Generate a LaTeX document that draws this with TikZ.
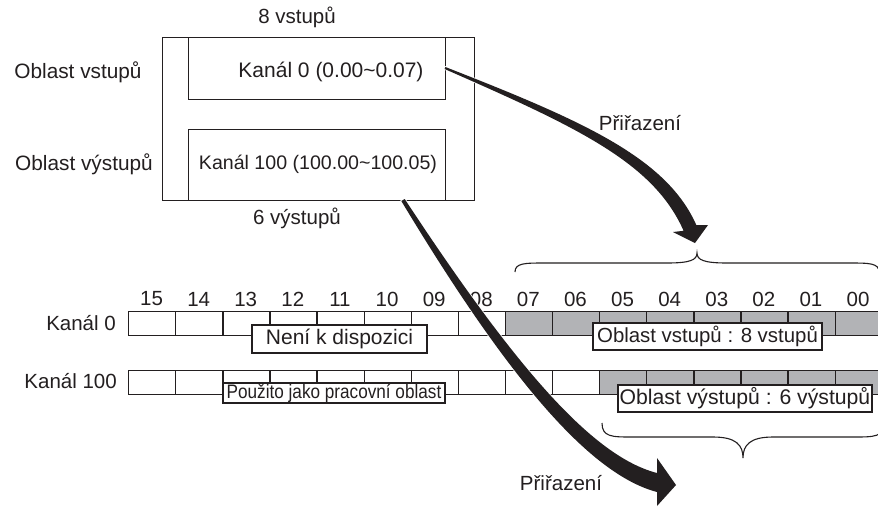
\documentclass[tikz,border=0pt]{standalone}
\usepackage{fontspec}
\setmainfont{Liberation Sans}
\newfontfamily\narrowfont[FakeStretch=0.88]{Liberation Sans}
\definecolor{ink}{RGB}{35,31,32}
\definecolor{cellgrey}{RGB}{178,179,182}
\newcommand{\fsz}[1]{\fontsize{#1}{#1}\selectfont}
\begin{document}
\begin{tikzpicture}[x=1pt,y=-1pt,
  txt/.style={inner sep=0pt, text=ink, font=\fsz{20.5}},
  frame/.style={draw=ink, line width=1.3pt},
  cell/.style={draw=ink, line width=1.3pt, minimum width=47.1pt, minimum height=24pt, inner sep=0pt, anchor=north west},
  tag/.style={draw=ink, fill=white, line width=1.1pt, text=ink, inner sep=0pt},
  brace/.style={draw=ink, line width=1.1pt},
  bigarrow/.style={fill=ink, preaction={draw=white, line width=1.6pt}}
]
\useasboundingbox (0,0) rectangle (878,507);
\clip (0,0) rectangle (878,507);
\fill[white] (0,0) rectangle (878,507);

% top block
\node[frame, minimum width=312pt, minimum height=163pt, inner sep=0pt, anchor=north west] (outer) at (162,37) {};
\node[frame, minimum width=257pt, minimum height=62pt, inner sep=0pt, anchor=north west] (inbox) at (188,37) {};
\node[frame, minimum width=257pt, minimum height=71pt, inner sep=0pt, anchor=north west] (outbox) at (188,129) {};
\node[txt] (t8) at (297,17) {8 vstupů};
\node[txt] (t6) at (297,218) {6 výstupů};
\node[txt, font=\fsz{20.8}] (ovs) at (78,72) {Oblast vstupů};
\node[txt, font=\fsz{20.8}] (ovy) at (84,164) {Oblast výstupů};
\node[txt, font=\fsz{21}] (k0) at (331,72) {Kanál 0 (0.00\char`~0.07)};
\node[txt, font=\fsz{19.6}] (k100) at (318,164) {Kanál 100 (100.00\char`~100.05)};

% bit numbers
\foreach \k/\lab in {0/15,1/14,2/13,3/12,4/11,5/10,6/09,7/08,8/07,9/06,10/05,11/04,12/03,13/02,14/01,15/00}{
  \node[txt] (n\k) at (128+47.1*\k+23.55,299) {\lab};
}
% rows
\foreach \k in {0,...,7}{ \node[cell] (a\k) at (128+47.1*\k,311) {}; }
\foreach \k in {8,...,15}{ \node[cell, fill=cellgrey] (a\k) at (128+47.1*\k,311) {}; }
\foreach \k in {0,...,9}{ \node[cell] (b\k) at (128+47.1*\k,370) {}; }
\foreach \k in {10,...,15}{ \node[cell, fill=cellgrey] (b\k) at (128+47.1*\k,370) {}; }
\node[txt, anchor=east] (lk0) at (116,323) {Kanál 0};
\node[txt, anchor=east] (lk100) at (117,381) {Kanál 100};

% tags
\node[tag, minimum width=175pt, minimum height=28pt, font=\fsz{21}] (nak) at (339.5,339) {Není k dispozici};
\node[tag, minimum width=229pt, minimum height=27pt, font=\fsz{20.4}] (ovs8) at (707.5,336.5) {Oblast vstupů : 8 vstupů};
\node[tag, minimum width=222pt, minimum height=20pt, font=\narrowfont\fsz{19.5}] (pjpo) at (334,393) {Použito jako pracovní oblast};
\node[tag, minimum width=254pt, minimum height=27pt, font=\fsz{21.2}] (ovy6) at (745,398.5) {Oblast výstupů : 6 výstupů};

% braces
\draw[brace] (515,272) .. controls (515,263) and (525,263) .. (545,263) -- (667,263) .. controls (690,263) and (697,260) .. (697,253) .. controls (697,260) and (704,263) .. (727,263) -- (849,263) .. controls (869,263) and (879,263) .. (879,272);
\draw[brace] (602,423) .. controls (602,437) and (612,437) .. (632,437) -- (713,437) .. controls (736,437) and (743,445) .. (743,458) .. controls (743,445) and (750,437) .. (773,437) -- (854,437) .. controls (874,437) and (884,437) .. (884,423);

% arrows
\path[bigarrow] (445.4,67) .. controls (581.5,120.3) and (666.4,157.2) .. (696.4,225.2) -- (708,225) -- (695,243) -- (673,232) -- (683.6,230.8) .. controls (653.6,162.8) and (578.5,127.7) .. (444.6,69) -- cycle;
\path[bigarrow] (404.7,199) .. controls (515,366.8) and (592.3,456.3) .. (657,473) -- (657,458) -- (676,485) -- (657,506) -- (657,492) .. controls (587.7,473.7) and (505,373.2) .. (401.3,201) -- cycle;
\node[txt] (p1) at (640,123) {Přiřazení};
\node[txt] (p2) at (561,483) {Přiřazení};
\end{tikzpicture}
\end{document}
